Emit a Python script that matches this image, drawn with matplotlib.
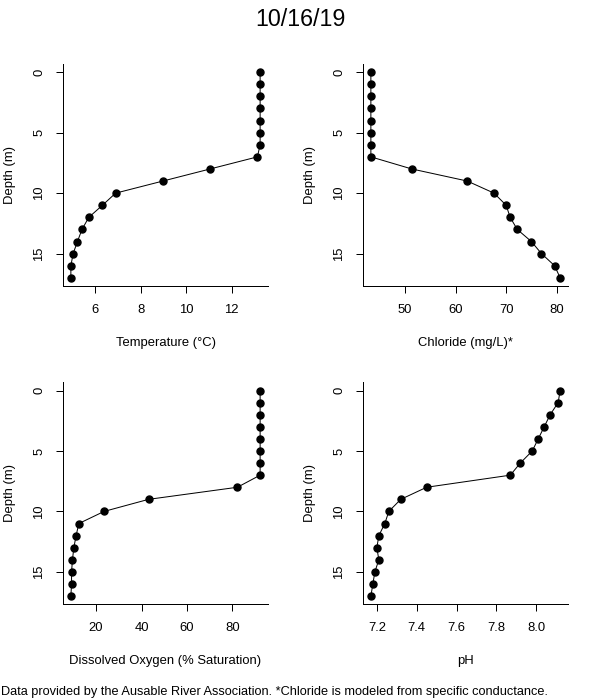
import matplotlib
matplotlib.use("Agg")
import matplotlib.pyplot as plt

plt.rcParams['font.family'] = ['Liberation Sans', 'DejaVu Sans']

DPI = 100
PX = 72.0 / DPI  # points per pixel

depth = [0, 1, 2, 3, 4, 5, 6, 7, 8, 9, 10, 11, 12, 13, 14, 15, 16, 17]
temperature = [13.25, 13.25, 13.25, 13.25, 13.25, 13.25, 13.25, 13.13, 11.05, 8.97,
               6.89, 6.31, 5.71, 5.41, 5.21, 5.02, 4.92, 4.92]
chloride = [43.2, 43.2, 43.2, 43.2, 43.2, 43.2, 43.2, 43.2, 51.3, 62.3,
            67.6, 70.0, 70.8, 72.2, 75.0, 77.0, 79.6, 80.7]
oxygen = [92.2, 92.2, 92.2, 92.2, 92.2, 92.2, 92.2, 92.2, 82.2, 43.1,
          23.5, 12.4, 11.2, 10.2, 9.6, 9.2, 9.2, 8.9]
ph = [8.12, 8.11, 8.07, 8.04, 8.01, 7.98, 7.92, 7.87, 7.45, 7.32,
      7.26, 7.24, 7.21, 7.20, 7.21, 7.19, 7.18, 7.17]

labels = ["Temperature (°C)", "Chloride (mg/L)*",
          "Dissolved Oxygen (% Saturation)", "pH"]
xticks = [[6, 8, 10, 12], [50, 60, 70, 80], [20, 40, 60, 80],
          [7.2, 7.4, 7.6, 7.8, 8.0]]
xticklabels = [["6", "8", "10", "12"], ["50", "60", "70", "80"],
               ["20", "40", "60", "80"], ["7.2", "7.4", "7.6", "7.8", "8.0"]]
yticks = [0, 5, 10, 15]

fig = plt.figure(figsize=(600 / DPI, 700 / DPI), dpi=DPI)

# panel boxes in pixels: left, top, width, height
W, H = 204.4, 222.0
boxes = [(63.3, 64), (363.3, 64), (63.3, 382.3), (363.3, 382.3)]
series = [temperature, chloride, oxygen, ph]

fs = 13 * PX
for i, (x0, y0) in enumerate(boxes):
    ax = fig.add_axes([x0 / 600, 1 - (y0 + H) / 700, W / 600, H / 700])
    vals = series[i]
    ax.plot(vals, depth, color='black', lw=1 * PX, marker='o',
            markersize=7 * PX, markerfacecolor='black', markeredgecolor='black')
    lo, hi = min(vals), max(vals)
    pad = 0.04 * (hi - lo)
    ax.set_xlim(lo - pad, hi + pad)
    ypad = 0.04 * (max(depth) - min(depth))
    ax.set_ylim(max(depth) + ypad, min(depth) - ypad)
    ax.set_xticks(xticks[i])
    ax.set_xticklabels(xticklabels[i])
    ax.set_yticks(yticks)
    ax.set_yticklabels([str(t) for t in yticks], rotation=90, va='center')
    for s in ['top', 'right']:
        ax.spines[s].set_visible(False)
    for s in ['left', 'bottom']:
        ax.spines[s].set_linewidth(1 * PX)
    ax.tick_params(length=7 * PX, width=1 * PX, labelsize=fs, pad=11 * PX,
                   direction='out')
    ax.set_xlabel(labels[i], fontsize=fs, va='center')
    ax.xaxis.set_label_coords(0.5, -57 / H)
    ax.set_ylabel("Depth (m)", fontsize=fs, va='center')
    ax.yaxis.set_label_coords(-53 / W, 0.5)

fig.text(0.5, 1 - 20 / 700, "10/16/19", ha='center', va='center', fontsize=23.3 * PX)
fig.text(1 / 600, 1 - 692 / 700,
         "Data provided by the Ausable River Association. *Chloride is modeled from specific conductance.",
         ha='left', va='center', fontsize=12.8 * PX)

fig.savefig("out.png", dpi=DPI)
